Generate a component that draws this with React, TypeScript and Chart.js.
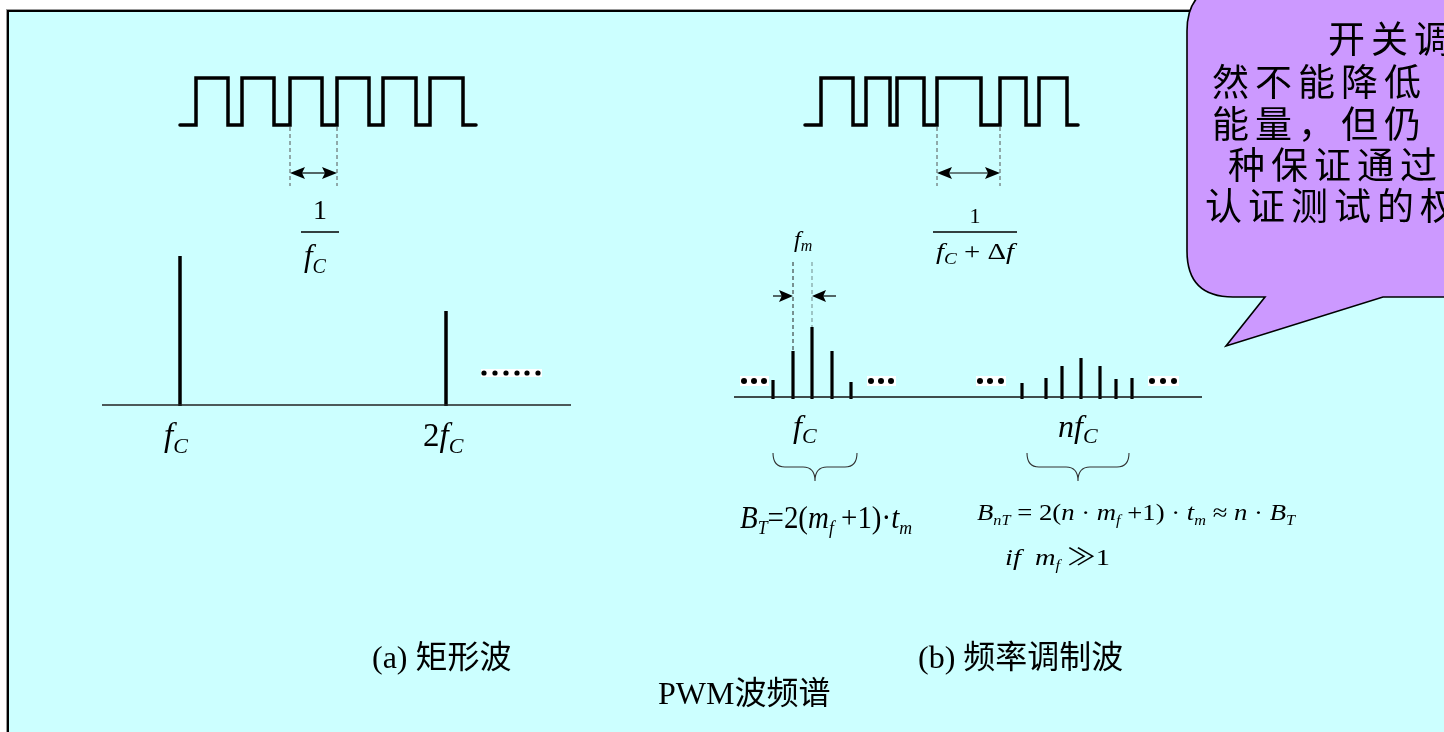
import React, { useEffect, useRef } from "react";
import { Chart, registerables } from "chart.js";

Chart.register(...registerables);

const W = 1444;
const H = 732;

const SERIF = '"Liberation Serif", "Times New Roman", "Noto Sans CJK SC", serif';
const CJK = '"Noto Sans CJK SC", sans-serif';

// ---- panel (a): rectangular wave ----
const waveLow = 125;
const waveHigh = 78;
const leftWaveStart = 180;
const leftWaveEnd = 476;
const leftWaveRises = [196, 242, 290, 337, 383, 430];
const leftWaveFalls = [228, 274, 322, 369, 416, 463];
const leftPeriodMarks = [290, 337];
const leftAxis = [102, 571];
const leftBaseY = 405;
const leftSpecFreqs = [180, 446];
const leftSpecTops = [256, 311];
const leftDots = [484, 495, 506, 517, 527, 538];
const leftDotsY = 373;

// ---- panel (b): frequency modulated wave ----
const rightWaveStart = 805;
const rightWaveEnd = 1078;
const rightWaveRises = [821, 866, 897, 937, 1000, 1039];
const rightWaveFalls = [853, 890, 924, 981, 1026, 1067];
const rightPeriodMarks = [937, 1000];
const rightAxis = [734, 1202];
const rightBaseY = 397;
const group1Freqs = [773, 793, 812, 832, 851];
const group1Tops = [380, 351, 327, 351, 382];
const group2Freqs = [1022, 1046, 1062, 1081, 1100, 1116, 1132];
const group2Tops = [383, 378, 366, 358, 366, 379, 378];
const fmMarks = [793, 812];
const rightDotGroups = [
  [744, 754, 764],
  [871, 881, 891],
  [980, 990, 1001],
  [1152, 1163, 1174],
];
const rightDotsY = 381;

// ---- captions ----
const captions = ["(a) 矩形波", "(b) 频率调制波", "PWM波频谱"];
const captionX = [372, 918, 658];
const captionY = [668, 668, 704];

// ---- callout ----
const bubbleLines = ["开关调频", "然不能降低", "能量，但仍", "种保证通过", "认证测试的权"];
const bubbleLineX = [1328, 1212, 1212, 1228, 1205];
const bubbleLineY = [53, 96, 138, 179, 220];

type Run = { t: string; size: number; it?: boolean; dy?: number };

const PANEL_BG = "#CCFFFF";
const BUBBLE_BG = "#CC99FF";

function seg(x1: number, y1: number, x2: number, y2: number, color = "#000", width = 1.2, dash: number[] = []) {
  return {
    data: [
      { x: x1, y: y1 },
      { x: x2, y: y2 },
    ],
    showLine: true,
    borderColor: color,
    borderWidth: width,
    borderDash: dash,
    borderCapStyle: "butt",
    pointRadius: 0,
    fill: false,
  };
}

function wave(start: number, end: number, rises: number[], falls: number[]) {
  const pts: { x: number; y: number }[] = [{ x: start, y: waveLow }];
  rises.forEach((r, i) => {
    pts.push({ x: r, y: waveLow }, { x: r, y: waveHigh }, { x: falls[i], y: waveHigh }, { x: falls[i], y: waveLow });
  });
  pts.push({ x: end, y: waveLow });
  return {
    data: pts,
    showLine: true,
    borderColor: "#000",
    borderWidth: 3.5,
    borderJoinStyle: "miter",
    borderCapStyle: "round",
    pointRadius: 0,
    fill: false,
  };
}

function dots(xs: number[], y: number, r: number) {
  return {
    data: xs.map((x) => ({ x, y })),
    showLine: false,
    pointRadius: r,
    pointBackgroundColor: "#000",
    pointBorderWidth: 0,
    pointBorderColor: "#000",
  };
}

function buildDatasets() {
  const ds: any[] = [];
  ds.push(wave(leftWaveStart, leftWaveEnd, leftWaveRises, leftWaveFalls));
  ds.push(wave(rightWaveStart, rightWaveEnd, rightWaveRises, rightWaveFalls));
  leftPeriodMarks.forEach((x) => ds.push(seg(x, waveLow + 2, x, 186, "#555", 1, [4, 3])));
  rightPeriodMarks.forEach((x) => ds.push(seg(x, waveLow + 2, x, 186, "#555", 1, [4, 3])));
  ds.push(seg(leftPeriodMarks[0] + 8, 173, leftPeriodMarks[1] - 8, 173, "#000", 1.2));
  ds.push(seg(rightPeriodMarks[0] + 8, 173, rightPeriodMarks[1] - 8, 173, "#000", 1.2));
  ds.push(seg(301, 232, 339, 232, "#000", 1.3));
  ds.push(seg(933, 232, 1017, 232, "#000", 1.3));
  ds.push(seg(leftAxis[0], leftBaseY, leftAxis[1], leftBaseY, "#222", 1.5));
  ds.push(seg(rightAxis[0], rightBaseY, rightAxis[1], rightBaseY, "#111", 1.5));
  leftSpecFreqs.forEach((f, i) => ds.push(seg(f, leftBaseY + 1, f, leftSpecTops[i], "#000", 3.5)));
  group1Freqs.forEach((f, i) => ds.push(seg(f, rightBaseY + 2, f, group1Tops[i], "#000", 3.2)));
  group2Freqs.forEach((f, i) => ds.push(seg(f, rightBaseY + 2, f, group2Tops[i], "#000", 3.2)));
  ds.push(seg(fmMarks[0], 262, fmMarks[0], group1Tops[1], "#222", 1, [4, 3]));
  ds.push(seg(fmMarks[1], 262, fmMarks[1], group1Tops[2], "#7f9f9f", 1.2, [4, 3]));
  ds.push(seg(group1Freqs[0], 296, fmMarks[0] - 8, 296, "#000", 1.2));
  ds.push(seg(fmMarks[1] + 8, 296, 836, 296, "#000", 1.2));
  ds.push(dots(leftDots, leftDotsY, 2.6));
  rightDotGroups.forEach((g) => ds.push(dots(g, rightDotsY, 3)));
  return ds;
}

function drawRuns(ctx: CanvasRenderingContext2D, runs: Run[], x: number, y: number, align: "left" | "center" = "left", targetW?: number) {
  let total = 0;
  const widths = runs.map((r) => {
    ctx.font = `${r.it ? "italic " : ""}${r.size}px ${SERIF}`;
    const w = ctx.measureText(r.t).width;
    total += w;
    return w;
  });
  const sc = targetW ? targetW / total : 1;
  const start = align === "center" ? x - (total * sc) / 2 : x;
  ctx.save();
  ctx.translate(start, y);
  ctx.scale(sc, 1);
  ctx.fillStyle = "#000";
  ctx.textBaseline = "alphabetic";
  ctx.textAlign = "left";
  let cx = 0;
  runs.forEach((r, i) => {
    ctx.font = `${r.it ? "italic " : ""}${r.size}px ${SERIF}`;
    ctx.fillText(r.t, cx, r.dy || 0);
    cx += widths[i];
  });
  ctx.restore();
}

function arrowHead(ctx: CanvasRenderingContext2D, tipX: number, tipY: number, dir: number, len = 15, half = 6) {
  ctx.beginPath();
  ctx.moveTo(tipX, tipY);
  ctx.lineTo(tipX - dir * len, tipY - half);
  ctx.lineTo(tipX - dir * len * 0.8, tipY);
  ctx.lineTo(tipX - dir * len, tipY + half);
  ctx.closePath();
  ctx.fill();
}

function brace(ctx: CanvasRenderingContext2D, x0: number, xm: number, x1: number, yTop: number, yMid: number, yTip: number) {
  const r = 12;
  ctx.beginPath();
  ctx.moveTo(x0, yTop);
  ctx.quadraticCurveTo(x0, yMid, x0 + r, yMid);
  ctx.lineTo(xm - r, yMid);
  ctx.quadraticCurveTo(xm, yMid, xm, yTip);
  ctx.quadraticCurveTo(xm, yMid, xm + r, yMid);
  ctx.lineTo(x1 - r, yMid);
  ctx.quadraticCurveTo(x1, yMid, x1, yTop);
  ctx.stroke();
}

const diagramPlugin = {
  id: "diagram",
  beforeDraw(chart: any) {
    const { ctx } = chart;
    const X = (v: number) => chart.scales.x.getPixelForValue(v);
    const Y = (v: number) => chart.scales.y.getPixelForValue(v);
    ctx.save();
    ctx.fillStyle = "#fff";
    ctx.fillRect(0, 0, chart.width, chart.height);
    ctx.fillStyle = PANEL_BG;
    ctx.fillRect(X(9), Y(12), X(W) - X(9), Y(H) - Y(12));
    ctx.fillStyle = "#999";
    ctx.fillRect(X(6), Y(9), 1, Y(H) - Y(9));
    ctx.fillRect(X(6), Y(9), X(W) - X(6), 1);
    ctx.fillStyle = "#000";
    ctx.fillRect(X(7), Y(10), 2, Y(H) - Y(10));
    ctx.fillRect(X(7), Y(10), X(W) - X(7), 2);
    ctx.restore();
  },
  beforeDatasetsDraw(chart: any) {
    const { ctx } = chart;
    const X = (v: number) => chart.scales.x.getPixelForValue(v);
    const Y = (v: number) => chart.scales.y.getPixelForValue(v);
    ctx.save();
    ctx.fillStyle = "#fff";
    ctx.fillRect(X(leftDots[0] - 3), Y(leftDotsY - 4), X(leftDots[leftDots.length - 1] + 4) - X(leftDots[0] - 3), 8);
    rightDotGroups.forEach((g) => {
      ctx.fillRect(X(g[0] - 4), Y(rightDotsY - 5), X(g[g.length - 1] + 5) - X(g[0] - 4), 10);
    });
    ctx.restore();
  },
  afterDatasetsDraw(chart: any) {
    const { ctx } = chart;
    const X = (v: number) => chart.scales.x.getPixelForValue(v);
    const Y = (v: number) => chart.scales.y.getPixelForValue(v);
    ctx.save();
    ctx.fillStyle = "#000";
    arrowHead(ctx, X(leftPeriodMarks[0]), Y(173), -1);
    arrowHead(ctx, X(leftPeriodMarks[1]), Y(173), 1);
    arrowHead(ctx, X(rightPeriodMarks[0]), Y(173), -1);
    arrowHead(ctx, X(rightPeriodMarks[1]), Y(173), 1);
    arrowHead(ctx, X(fmMarks[0]), Y(296), 1, 14, 6);
    arrowHead(ctx, X(fmMarks[1]), Y(296), -1, 14, 6);
    ctx.strokeStyle = "#333";
    ctx.lineWidth = 1.1;
    brace(ctx, X(773), X(815), X(857), Y(453), Y(467), Y(481));
    brace(ctx, X(1027), X(1078), X(1129), Y(453), Y(467), Y(481));

    // panel (a) labels
    drawRuns(ctx, [{ t: "1", size: 28 }], X(320), Y(219), "center");
    drawRuns(ctx, [{ t: "f", size: 31, it: true }, { t: "C", size: 20, it: true, dy: 7 }], X(304), Y(266));
    drawRuns(ctx, [{ t: "f", size: 33, it: true }, { t: "C", size: 22, it: true, dy: 7 }], X(164), Y(446));
    drawRuns(ctx, [{ t: "2", size: 33 }, { t: "f", size: 33, it: true }, { t: "C", size: 22, it: true, dy: 7 }], X(423), Y(446));

    // panel (b) labels
    drawRuns(ctx, [{ t: "1", size: 22 }], X(975), Y(223), "center");
    drawRuns(
      ctx,
      [
        { t: "f", size: 24, it: true },
        { t: "C", size: 16, it: true, dy: 5 },
        { t: " + ", size: 24 },
        { t: "Δ", size: 24 },
        { t: "f", size: 24, it: true },
      ],
      X(936),
      Y(259),
      "left",
      78
    );
    drawRuns(ctx, [{ t: "f", size: 24, it: true }, { t: "m", size: 16, it: true, dy: 4 }], X(794), Y(247));
    drawRuns(ctx, [{ t: "f", size: 32, it: true }, { t: "C", size: 22, it: true, dy: 6 }], X(793), Y(437));
    drawRuns(ctx, [{ t: "n", size: 32, it: true }, { t: "f", size: 32, it: true }, { t: "C", size: 22, it: true, dy: 6 }], X(1058), Y(437));

    drawRuns(
      ctx,
      [
        { t: "B", size: 31, it: true },
        { t: "T", size: 19, it: true, dy: 6 },
        { t: "=2(", size: 31 },
        { t: "m", size: 31, it: true },
        { t: "f", size: 19, it: true, dy: 6 },
        { t: " +1)·", size: 31 },
        { t: "t", size: 31, it: true },
        { t: "m", size: 19, it: true, dy: 6 },
      ],
      X(740),
      Y(528),
      "left",
      172
    );
    drawRuns(
      ctx,
      [
        { t: "B", size: 23, it: true },
        { t: "nT", size: 14, it: true, dy: 5 },
        { t: " = 2(", size: 23 },
        { t: "n", size: 23, it: true },
        { t: " · ", size: 23 },
        { t: "m", size: 23, it: true },
        { t: "f", size: 14, it: true, dy: 5 },
        { t: " +1) · ", size: 23 },
        { t: "t", size: 23, it: true },
        { t: "m", size: 14, it: true, dy: 5 },
        { t: " ≈ ", size: 23 },
        { t: "n", size: 23, it: true },
        { t: " · ", size: 23 },
        { t: "B", size: 23, it: true },
        { t: "T", size: 14, it: true, dy: 5 },
      ],
      X(977),
      Y(520),
      "left",
      318
    );
    drawRuns(
      ctx,
      [
        { t: "if", size: 24, it: true },
        { t: "  ", size: 24 },
        { t: "m", size: 24, it: true },
        { t: "f", size: 14, it: true, dy: 5 },
        { t: " ≫1", size: 24 },
      ],
      X(1005),
      Y(565),
      "left",
      105
    );

    // captions
    ctx.fillStyle = "#000";
    ctx.textBaseline = "alphabetic";
    ctx.font = `32px ${SERIF}`;
    captions.forEach((c, i) => ctx.fillText(c, X(captionX[i]), Y(captionY[i])));

    // callout bubble
    const L = X(1187);
    const T = Y(-15);
    const R = X(1620);
    const B = Y(297);
    const r = 46;
    ctx.beginPath();
    ctx.moveTo(L + r, T);
    ctx.lineTo(R - r, T);
    ctx.quadraticCurveTo(R, T, R, T + r);
    ctx.lineTo(R, B - r);
    ctx.quadraticCurveTo(R, B, R - r, B);
    ctx.lineTo(X(1383), B);
    ctx.lineTo(X(1226), Y(346));
    ctx.lineTo(X(1265), B);
    ctx.lineTo(L + r, B);
    ctx.quadraticCurveTo(L, B, L, B - r);
    ctx.lineTo(L, T + r);
    ctx.quadraticCurveTo(L, T, L + r, T);
    ctx.closePath();
    ctx.fillStyle = BUBBLE_BG;
    ctx.fill();
    ctx.strokeStyle = "#000";
    ctx.lineWidth = 1.6;
    ctx.stroke();

    ctx.fillStyle = "#000";
    ctx.font = `37px ${CJK}`;
    (ctx as any).letterSpacing = "6px";
    bubbleLines.forEach((line, i) => {
      ctx.fillText(line, X(bubbleLineX[i]), Y(bubbleLineY[i]));
    });
    (ctx as any).letterSpacing = "0px";
    ctx.restore();
  },
};

export default function App() {
  const ref = useRef<HTMLCanvasElement | null>(null);
  useEffect(() => {
    if (!ref.current) return;
    const chart = new Chart(ref.current, {
      type: "scatter",
      data: { datasets: buildDatasets() },
      options: {
        animation: false,
        responsive: false,
        devicePixelRatio: 1,
        layout: { padding: 0, autoPadding: false },
        events: [],
        scales: {
          x: { type: "linear", min: 0, max: W, display: false },
          y: { type: "linear", min: 0, max: H, reverse: true, display: false },
        },
        plugins: { legend: { display: false }, tooltip: { enabled: false }, title: { display: false } },
      } as any,
      plugins: [diagramPlugin],
    });
    return () => chart.destroy();
  }, []);
  return (
    <div style={{ position: "fixed", left: 0, top: 0, width: W, height: H, background: "#fff" }}>
      <canvas ref={ref} width={W} height={H} style={{ display: "block", width: W, height: H }} />
    </div>
  );
}
